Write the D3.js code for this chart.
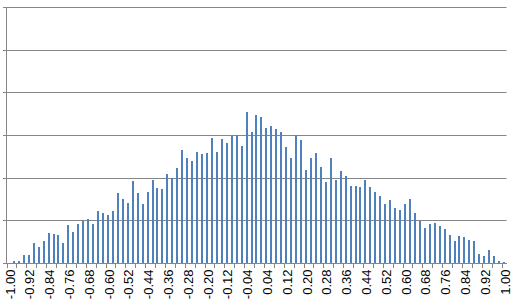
<!DOCTYPE html>
<html>
<head>
<meta charset="utf-8">
<script src="https://cdn.jsdelivr.net/npm/d3@7"></script>
<style>
  html, body { margin: 0; padding: 0; background: #fff; }
  svg { display: block; }
  .tick-label { font-family: "Liberation Sans", Arial, sans-serif; font-size: 13px; fill: #000; }
</style>
</head>
<body>
<div id="chart"></div>
<script>
// bins -1.00 .. 1.00 step 0.02 (upper edge of each bin)
const binEdges = d3.range(-50, 51).map((k) => (k / 50).toFixed(2));

// counts per bin (gridline step = 50)
const counts = [
  0, 2, 2, 9, 9, 23, 19, 26, 35, 34,
  33, 23, 45, 36, 46, 49, 52, 46, 61, 59,
  56, 61, 82, 75, 70, 96, 82, 69, 83, 97,
  88, 87, 104, 100, 111, 132, 123, 120, 130, 128,
  129, 146, 130, 145, 141, 149, 150, 137, 177, 154,
  173, 171, 158, 161, 157, 154, 136, 123, 150, 144,
  109, 123, 129, 113, 95, 123, 97, 108, 102, 90,
  90, 89, 97, 89, 83, 79, 69, 74, 64, 62,
  69, 75, 59, 49, 41, 46, 47, 43, 40, 33,
  26, 32, 30, 27, 26, 11, 8, 15, 8, 2,
  1
];

// every 4th bin gets a label
const tickLabels = binEdges.filter((d, i) => i % 4 === 0);
const yTicks = [0, 50, 100, 150, 200, 250, 300];

const width = 513, height = 305;
const plot = { left: 6.5, right: 506.5, top: 7, bottom: 263 };

const svg = d3.select("#chart").append("svg")
  .attr("width", width).attr("height", height);

// scales
const x = d3.scaleBand()
  .domain(binEdges)
  .range([plot.left, plot.right])
  .paddingInner(0.6)
  .paddingOuter(0.3);

const y = d3.scaleLinear()
  .domain([0, 300])
  .range([plot.bottom, plot.top]);

const step = x.step();

// gridlines
svg.append("g")
  .selectAll("line")
  .data(yTicks.slice(1))
  .join("line")
  .attr("x1", plot.left).attr("x2", plot.right)
  .attr("y1", (d) => Math.round(y(d)) + 0.5)
  .attr("y2", (d) => Math.round(y(d)) + 0.5)
  .attr("stroke", "#868686");

// bars
svg.append("g")
  .selectAll("rect")
  .data(counts)
  .join("rect")
  .attr("x", (d, i) => Math.round(x(binEdges[i]) + x.bandwidth() / 2 - 1))
  .attr("width", 2)
  .attr("y", (d) => Math.round(y(d)))
  .attr("height", (d) => Math.round(y(0)) - Math.round(y(d)))
  .attr("fill", "#4F81BD");

// y axis line + ticks
const yAxis = svg.append("g").attr("shape-rendering", "crispEdges");
yAxis.append("line")
  .attr("x1", plot.left).attr("x2", plot.left)
  .attr("y1", plot.top).attr("y2", plot.bottom + 0.5)
  .attr("stroke", "#868686");
yAxis.selectAll(".yt")
  .data(yTicks)
  .join("line")
  .attr("class", "yt")
  .attr("x1", plot.left - 4).attr("x2", plot.left)
  .attr("y1", (d) => Math.round(y(d)) + 0.5)
  .attr("y2", (d) => Math.round(y(d)) + 0.5)
  .attr("stroke", "#868686");

// x axis line + tick marks every 2 bins (on bin boundaries)
const xAxis = svg.append("g").attr("shape-rendering", "crispEdges");
const base = Math.round(y(0)) + 0.5;
xAxis.append("line")
  .attr("x1", plot.left).attr("x2", plot.right)
  .attr("y1", base).attr("y2", base)
  .attr("stroke", "#868686");
xAxis.selectAll(".xt")
  .data(d3.range(0, binEdges.length + 1, 2))
  .join("line")
  .attr("class", "xt")
  .attr("x1", (k) => Math.round(plot.left + k * step) + 0.5)
  .attr("x2", (k) => Math.round(plot.left + k * step) + 0.5)
  .attr("y1", base).attr("y2", base + 4)
  .attr("stroke", "#868686");

// rotated category labels
svg.append("g")
  .selectAll("text")
  .data(tickLabels)
  .join("text")
  .attr("class", "tick-label")
  .attr("transform", (d) => `translate(${x(d) + x.bandwidth() / 2 + 1},${base + 6}) rotate(-90)`)
  .attr("dy", "0.35em")
  .attr("text-anchor", "end")
  .text((d) => d);
</script>
</body>
</html>
